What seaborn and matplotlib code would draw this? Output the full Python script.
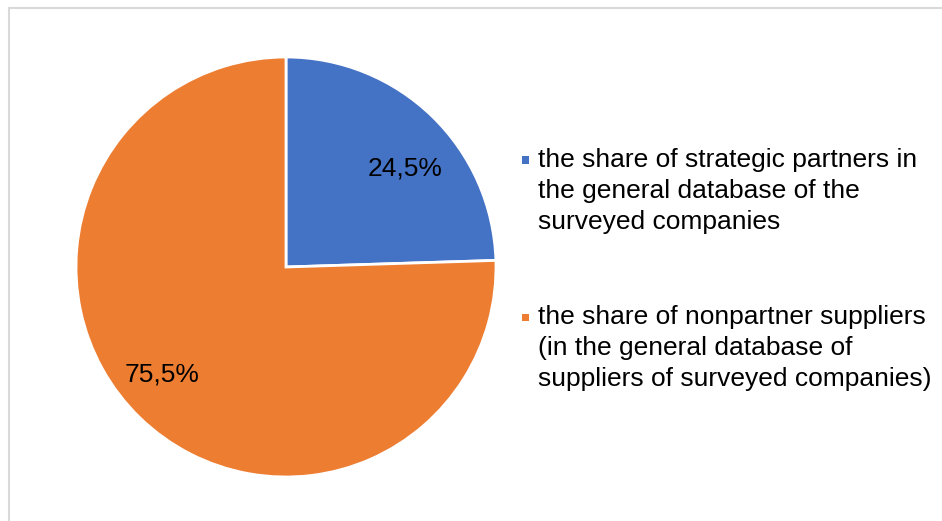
import matplotlib
matplotlib.use("Agg")
import matplotlib.pyplot as plt
from matplotlib.lines import Line2D
from matplotlib.patches import Rectangle
import seaborn as sns

categories = [
    "the share of strategic partners in\nthe general database of the\nsurveyed companies",
    "the share of nonpartner suppliers\n(in the general database of\nsuppliers of surveyed companies)",
]
shares = [24.5, 75.5]
colors = ["#4472C4", "#ED7D31"]

sns.set_theme(style="white")
plt.rcParams["font.family"] = ["Liberation Sans", "DejaVu Sans"]

W, H = 942, 521
fig = plt.figure(figsize=(W / 100, H / 100), dpi=100)
fig.patch.set_facecolor("white")

# chart frame: only the left and top edges fall inside the image
frame_kw = dict(transform=fig.transFigure, color="#d9d9d9", linewidth=1.5)
fig.add_artist(Line2D([8.5 / W, 8.5 / W], [0, (H - 7.5) / H], **frame_kw))
fig.add_artist(Line2D([8.5 / W, 1], [(H - 7.5) / H, (H - 7.5) / H], **frame_kw))

cx, cy, r = 286, 254, 210
ax = fig.add_axes([(cx - r) / W, (cy - r) / H, 2 * r / W, 2 * r / H])

wedges, texts, autotexts = ax.pie(
    shares,
    colors=colors,
    startangle=90,
    counterclock=False,
    radius=1.0,
    autopct=lambda p: f"{p:.1f}%".replace(".", ","),
    pctdistance=0.76,
    wedgeprops=dict(edgecolor="white", linewidth=2),
    textprops=dict(fontsize=19, color="black"),
)
# best-fit placement of the percentage labels inside their wedges
label_pos = [(0.565, 0.47), (-0.59, -0.51)]
for t, (x, y) in zip(autotexts, label_pos):
    t.set_position((x, y))
ax.set_xlim(-1, 1)
ax.set_ylim(-1, 1)
ax.set_aspect("equal")
ax.axis("off")

# legend: square key aligned with the first line of each wrapped label
key_y = [160, 317]
line_step = 31
for lab, c, y in zip(categories, colors, key_y):
    n_lines = lab.count("\n") + 1
    fig.patches.append(Rectangle((522 / W, (H - y - 3.5) / H), 7 / W, 7 / H,
                                 transform=fig.transFigure, facecolor=c,
                                 edgecolor="none"))
    last_baseline = y + 7 + (n_lines - 1) * line_step
    fig.text(538 / W, (H - last_baseline) / H, lab, fontsize=19, color="black",
             va="baseline", ha="left", linespacing=1.37)

fig.savefig("out.png", dpi=100, facecolor="white")
